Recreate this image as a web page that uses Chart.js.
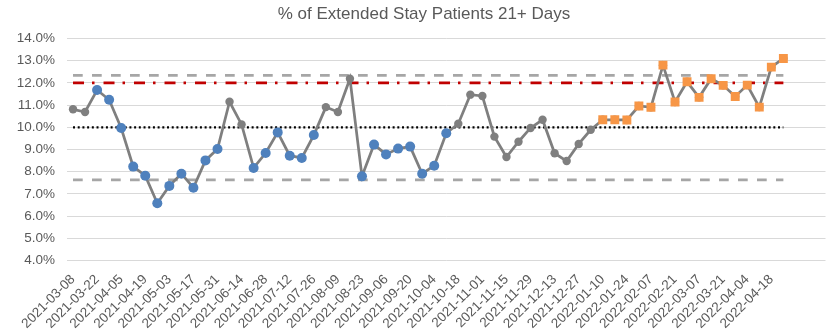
<!DOCTYPE html>
<html>
<head>
<meta charset="utf-8">
<script src="https://cdn.jsdelivr.net/npm/chart.js@4"></script>
<style>
  html, body { margin: 0; padding: 0; background: #fff; }
  #wrap { width: 834px; height: 334px; }
</style>
</head>
<body>
<div id="wrap"><canvas id="c" width="834" height="334"></canvas></div>
<script>
// weekly categories (week commencing)
const weeks = [
  '2021-03-08','2021-03-15','2021-03-22','2021-03-29','2021-04-05','2021-04-12','2021-04-19','2021-04-26',
  '2021-05-03','2021-05-10','2021-05-17','2021-05-24','2021-05-31','2021-06-07','2021-06-14','2021-06-21',
  '2021-06-28','2021-07-05','2021-07-12','2021-07-19','2021-07-26','2021-08-02','2021-08-09','2021-08-16',
  '2021-08-23','2021-08-30','2021-09-06','2021-09-13','2021-09-20','2021-09-27','2021-10-04','2021-10-11',
  '2021-10-18','2021-10-25','2021-11-01','2021-11-08','2021-11-15','2021-11-22','2021-11-29','2021-12-06',
  '2021-12-13','2021-12-20','2021-12-27','2022-01-03','2022-01-10','2022-01-17','2022-01-24','2022-01-31',
  '2022-02-07','2022-02-14','2022-02-21','2022-02-28','2022-03-07','2022-03-14','2022-03-21','2022-03-28',
  '2022-04-04','2022-04-11','2022-04-18','2022-04-25'
];
// empty trailing categories on the axis
const spareWeeks = ['', '', ''];

// % of patients with stay 21+ days
const pct = [
  10.81, 10.69, 11.68, 11.24, 9.97, 8.23, 7.82, 6.58, 7.36, 7.91,
  7.28, 8.51, 9.02, 11.15, 10.13, 8.17, 8.84, 9.77, 8.72, 8.62,
  9.65, 10.91, 10.69, 12.19, 7.79, 9.22, 8.78, 9.04, 9.13, 7.91,
  8.27, 9.73, 10.16, 11.47, 11.41, 9.58, 8.66, 9.35, 9.97, 10.34,
  8.83, 8.48, 9.25, 9.89, 10.34, 10.34, 10.33, 10.96, 10.90, 12.80,
  11.14, 12.05, 11.35, 12.19, 11.89, 11.39, 11.90, 10.91, 12.71, 13.10
];
// SPC marker group: n = normal, r = run below mean, s = shift above mean
const marker = [
  'n','n','r','r','r','r','r','r','r','r',
  'r','r','r','n','n','r','r','r','r','r',
  'r','n','n','n','r','r','r','r','r','r',
  'r','r','n','n','n','n','n','n','n','n',
  'n','n','n','n','s','s','s','s','s','s',
  's','s','s','s','s','s','s','s','s','s'
];

const meanVal = 10.0;
const upperLimit = 12.34;
const lowerLimit = 7.63;
const targetVal = 12.0;

const yTicks = [4, 5, 6, 7, 8, 9, 10, 11, 12, 13, 14];
const chartTitle = '% of Extended Stay Patients 21+ Days';

const GREY = '#7f7f7f';
const BLUE = '#4f81bd';
const ORANGE = '#f79646';
const TXT = '#595959';
const FONT = '"Liberation Sans", Arial, sans-serif';

const flat = v => weeks.map(() => v);
const pick = code => pct.map((v, i) => marker[i] === code ? v : null);

// title sits a little right of the canvas centre, as in the Excel original
const titlePlugin = {
  id: 'xlTitle',
  afterDraw(chart) {
    const ctx = chart.ctx;
    ctx.save();
    ctx.font = '17px ' + FONT;
    ctx.fillStyle = TXT;
    ctx.textAlign = 'center';
    ctx.textBaseline = 'middle';
    ctx.fillText(chartTitle, 424, 14.5);
    ctx.restore();
  }
};

new Chart(document.getElementById('c').getContext('2d'), {
  type: 'line',
  data: {
    labels: weeks.concat(spareWeeks),
    datasets: [
      { label: 'Shift', data: pick('s'), showLine: false, order: 0,
        pointStyle: 'rect', pointRadius: 6.3, pointHoverRadius: 6.3,
        pointBackgroundColor: ORANGE, pointBorderColor: ORANGE, pointBorderWidth: 0 },
      { label: 'Run', data: pick('r'), showLine: false, order: 1,
        pointRadius: 5, pointHoverRadius: 5,
        pointBackgroundColor: BLUE, pointBorderColor: BLUE, pointBorderWidth: 0 },
      { label: '% 21+ days', data: pct, order: 2,
        borderColor: GREY, borderWidth: 2.75, tension: 0,
        pointRadius: 4.2, pointHoverRadius: 4.2,
        pointBackgroundColor: GREY, pointBorderColor: GREY, pointBorderWidth: 0 },
      { label: 'Mean', data: flat(meanVal), order: 3, pointRadius: 0,
        borderColor: '#000000', borderWidth: 2.2, borderDash: [2, 2.7] },
      { label: 'Target', data: flat(targetVal), order: 4, pointRadius: 0,
        borderColor: '#c00000', borderWidth: 2.75, borderDash: [11, 8, 2.5, 9] },
      { label: 'UCL', data: flat(upperLimit), order: 5, pointRadius: 0,
        borderColor: '#a6a6a6', borderWidth: 2.75, borderDash: [9.7, 9.3] },
      { label: 'LCL', data: flat(lowerLimit), order: 6, pointRadius: 0,
        borderColor: '#a6a6a6', borderWidth: 2.75, borderDash: [9.7, 9.3] },
    ]
  },
  plugins: [titlePlugin],
  options: {
    responsive: false, animation: false, devicePixelRatio: 1,
    layout: { padding: { left: 0, right: 5, top: 38.5, bottom: 0 } },
    plugins: {
      legend: { display: false },
      tooltip: { enabled: false },
      title: { display: false }
    },
    scales: {
      x: {
        offset: true,
        grid: { display: false },
        border: { display: false },
        ticks: {
          autoSkip: false, maxRotation: 45, minRotation: 45, padding: 3,
          color: TXT, font: { family: FONT, size: 13.5 },
          callback: function (v, i) { return i % 2 === 0 ? this.getLabelForValue(v) : ''; }
        },
        afterFit: s => { s.height = 73.5; }
      },
      y: {
        min: 4, max: 14,
        afterBuildTicks: s => { s.ticks = yTicks.map(v => ({ value: v })); },
        grid: { color: '#d9d9d9', lineWidth: 1, drawTicks: false },
        border: { display: false },
        ticks: {
          padding: 12, color: TXT, font: { family: FONT, size: 13.5 },
          callback: v => v.toFixed(1) + '%'
        },
        afterFit: s => { s.width = 67; }
      }
    }
  }
});
</script>
</body>
</html>
